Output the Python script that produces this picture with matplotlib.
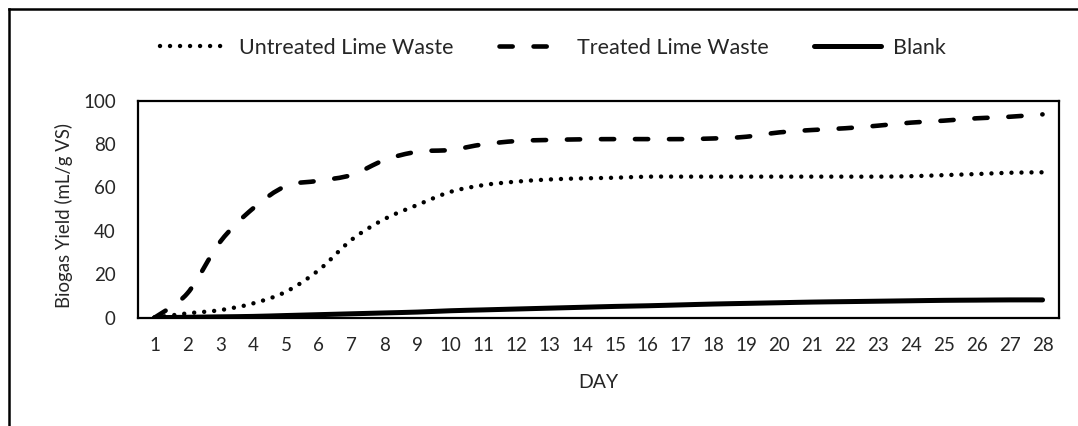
import matplotlib
matplotlib.use("Agg")
import matplotlib.pyplot as plt
import numpy as np
from matplotlib.path import Path
from matplotlib.patches import PathPatch
from matplotlib.lines import Line2D

days = list(range(1, 29))
untreated = [0, 2.0, 3.5, 6.6, 12, 22, 36, 45.5, 52, 58, 61.1, 62.7, 63.7, 64.2, 64.5, 65, 65, 65, 65,
             65, 65, 65, 65, 65.2, 65.7, 66.2, 66.8, 67]
treated = [0, 11.2, 35, 50.4, 60.7, 63.1, 65.8, 72.7, 76.5, 77.3, 79.9, 81.4, 81.9, 82.2, 82.3, 82.3,
           82.3, 82.6, 83.4, 85.4, 86.5, 87.3, 88.5, 89.9, 90.8, 91.9, 92.6, 93.7]
blank = [0, 0.2, 0.4, 0.6, 1.0, 1.4, 1.8, 2.2, 2.6, 3.2, 3.6, 4.0, 4.4, 4.8, 5.2, 5.5, 5.9, 6.3, 6.6,
         6.9, 7.2, 7.4, 7.6, 7.8, 8.0, 8.1, 8.2, 8.2]
labels = ["Untreated Lime Waste", "Treated Lime Waste", "Blank"]
yticks = [0, 20, 40, 60, 80, 100]

plt.rcParams['font.family'] = ['Lato', 'DejaVu Sans']
plt.rcParams['lines.scale_dashes'] = False

fig = plt.figure(figsize=(10.78, 4.26), dpi=100)
ax = fig.add_axes([138 / 1078, 1 - 317.7 / 426, (1059 - 138) / 1078, (317.7 - 100.7) / 426])


def smooth_path(xs, ys):
    xs = np.asarray(xs, float)
    ys = np.asarray(ys, float)
    n = len(xs)
    verts = [(xs[0], ys[0])]
    codes = [Path.MOVETO]
    for i in range(n - 1):
        p0 = np.array([xs[max(i - 1, 0)], ys[max(i - 1, 0)]])
        p1 = np.array([xs[i], ys[i]])
        p2 = np.array([xs[i + 1], ys[i + 1]])
        p3 = np.array([xs[min(i + 2, n - 1)], ys[min(i + 2, n - 1)]])
        c1 = p1 + (p2 - p0) / 6.0
        c2 = p2 - (p3 - p1) / 6.0
        verts += [tuple(c1), tuple(c2), tuple(p2)]
        codes += [Path.CURVE4] * 3
    return Path(verts, codes)


styles = [
    dict(lw=3.2, ls=(0, (0.01, 7.2))),
    dict(lw=3.3, ls=(0, (9.5, 15.0))),
    dict(lw=3.6, ls='-'),
]
series = [untreated, treated, blank]
handles = []
for ys, st, lab in zip(series, styles, labels):
    p = PathPatch(smooth_path(days, ys), facecolor='none', edgecolor='black',
                  linewidth=st['lw'], linestyle=st['ls'], capstyle='round', joinstyle='round')
    ax.add_patch(p)
    h = Line2D([], [], color='black', linewidth=st['lw'], linestyle=st['ls'],
               dash_capstyle='round', solid_capstyle='round')
    handles.append(h)

ax.set_xlim(0.5, 28.5)
ax.set_ylim(0, 100)
ax.set_xticks(days)
ax.set_xticklabels([str(d) for d in days])
ax.set_yticks(yticks)
ax.tick_params(axis='both', length=0, labelsize=13.5, colors='#262626')
ax.tick_params(axis='x', pad=14)
ax.tick_params(axis='y', pad=16)
for s in ax.spines.values():
    s.set_linewidth(1.6)
    s.set_color('black')
ax.set_xlabel("DAY", fontsize=14, color='#262626', labelpad=14)
ax.set_ylabel("Biogas Yield (mL/g VS)", fontsize=13.4, color='#262626')
ax.yaxis.set_label_coords((73 - 138) / 921, (317.7 - 216) / 217)

fig.legend(handles, labels, loc='center', bbox_to_anchor=(553 / 1078, 1 - 48 / 426), ncol=3,
           frameon=False, fontsize=15.5, handlelength=3.1, handletextpad=0.55,
           columnspacing=2.1, labelcolor='#262626')

fig.add_artist(Line2D([9 / 1078, 9 / 1078], [0, 1 - 9 / 426], color='black', lw=1.8,
                      transform=fig.transFigure))
fig.add_artist(Line2D([9 / 1078, 1], [1 - 9 / 426, 1 - 9 / 426], color='black', lw=1.8,
                      transform=fig.transFigure))

fig.savefig("out.png", dpi=100)
